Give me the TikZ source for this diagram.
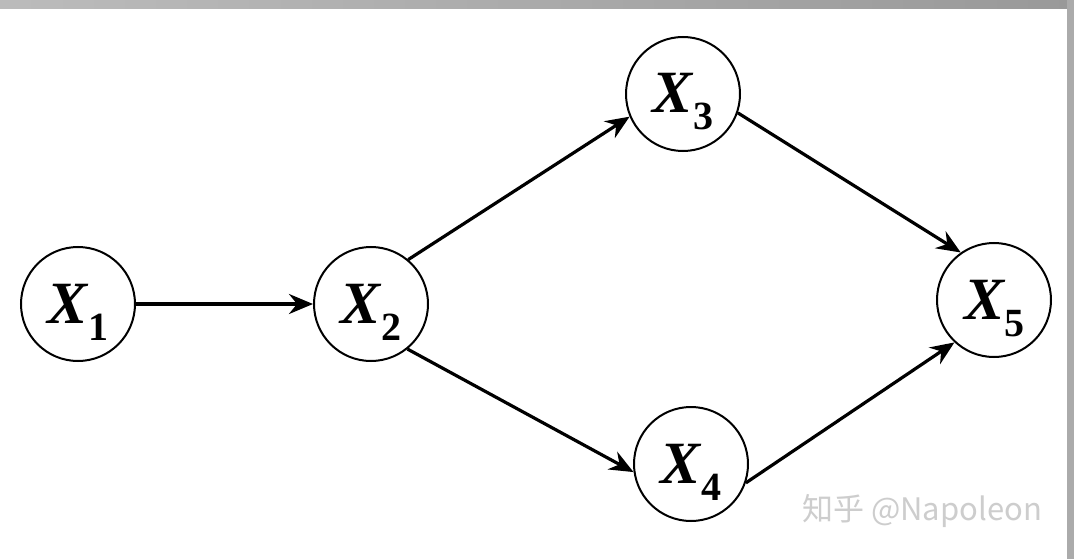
\documentclass[tikz,border=0pt]{standalone}
\usepackage{fontspec}
\setmainfont{Liberation Serif}
\newfontfamily\cjk{Noto Sans CJK SC}
\usetikzlibrary{arrows.meta}
\definecolor{bargray}{RGB}{180,180,180}
\definecolor{wmgray}{RGB}{205,205,205}
\newcommand{\varX}[1]{\smash{\raisebox{-19pt}{{\fontsize{60}{60}\selectfont\bfseries\itshape X}\kern0pt\raisebox{-17pt}{\fontsize{40}{40}\selectfont\bfseries #1}}}}
\begin{document}
\begin{tikzpicture}[x=1pt,y=-1pt,
  var/.style={circle,draw=black,line width=2pt,minimum size=114pt,inner sep=0pt,fill=white},
  conn/.style={line width=3.2pt,-{Stealth[length=24pt,width=20pt,inset=8pt]}}]
\useasboundingbox (0,0) rectangle (1074,559);
\fill[white] (0,0) rectangle (1074,559);
\shade[left color=bargray!90!white,right color=bargray!85!black] (0,0) rectangle (1074,9);
\fill[bargray!95!black] (1067,0) rectangle (1074,559);
\node[var] (x1) at (78,304) {\varX{1}};
\node[var] (x2) at (371,304) {\varX{2}};
\node[var] (x3) at (683,94) {\varX{3}};
\node[var] (x4) at (691,464) {\varX{4}};
\node[var] (x5) at (994,300) {\varX{5}};
\draw[conn] (x1.east) -- (x2.west);
\draw[conn] (x2.50) -- (x3.203);
\draw[conn] (x2.-51) -- (x4.188);
\draw[conn] (x3.-19) -- (x5.125);
\draw[conn] (x4.-19) -- (x5.227);
\node[text=wmgray,font=\cjk\fontsize{31}{31}\selectfont] (wm) at (922,511) {知乎 @Napoleon};
\end{tikzpicture}
\end{document}
